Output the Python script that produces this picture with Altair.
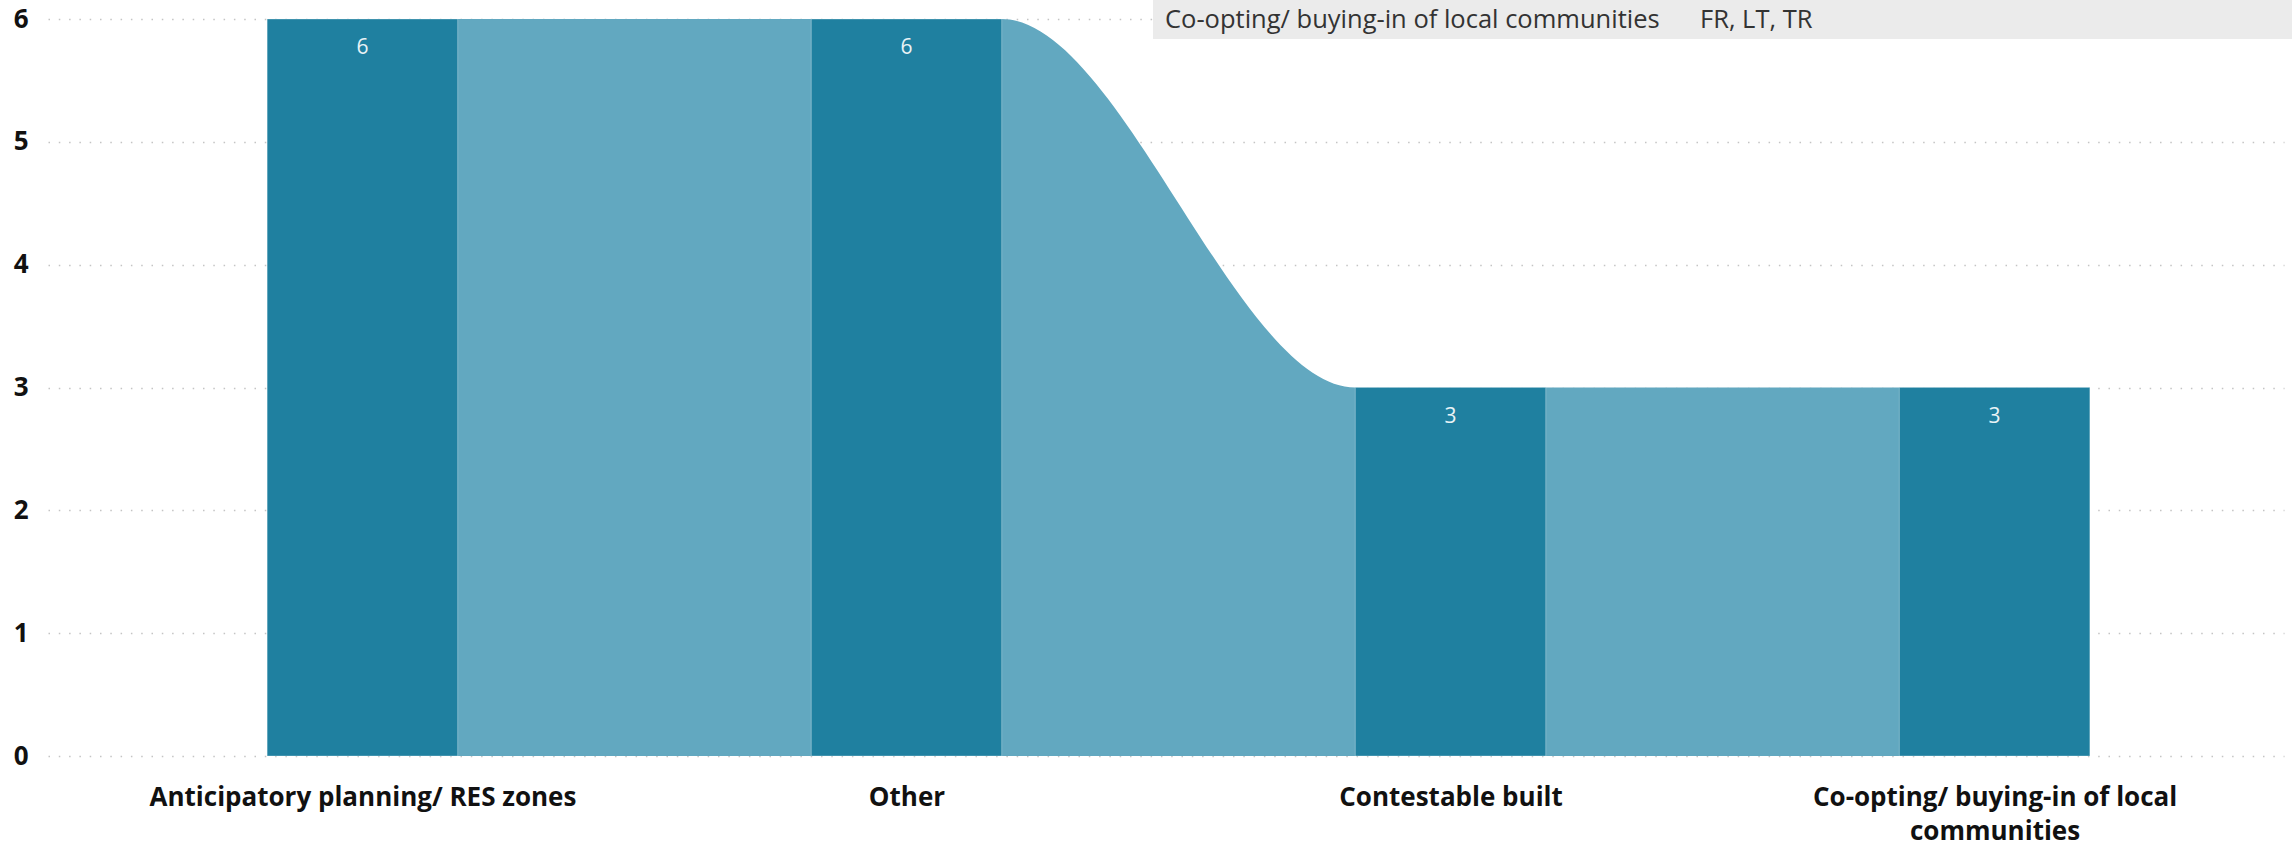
import json
import altair as alt
import pandas as pd

# ---- data ----
categories = [
    "Anticipatory planning/ RES zones",
    "Other",
    "Contestable built",
    "Co-opting/ buying-in of local communities",
]
values = [6, 6, 3, 3]
# axis tick labels (the last one wraps onto two lines)
tick_labels = [
    ["Anticipatory planning/ RES zones"],
    ["Other"],
    ["Contestable built"],
    ["Co-opting/ buying-in of local", "communities"],
]
y_ticks = [0, 1, 2, 3, 4, 5, 6]
tooltip_category = ["Co-opting/ buying-in of local communities"]
tooltip_countries = ["FR, LT, TR"]

# ---- layout / style ----
W, H = 2236, 737
HALF = 0.175  # half bar width in category units
BAR = "#1f80a0"
RIBBON = "#62a8c0"
FONT = "Open Sans"

idx = list(range(len(categories)))
bars = pd.DataFrame({"pos": idx, "value": values, "category": categories})
bars["x0"] = bars["pos"] - HALF
bars["x1"] = bars["pos"] + HALF

# ribbon: each bar's value held across its own left/right edges
rib_rows = []
for i, v in zip(idx, values):
    rib_rows.append({"x": i - HALF, "value": v})
    rib_rows.append({"x": i + HALF, "value": v})
ribbon = pd.DataFrame(rib_rows)

xscale = alt.Scale(domain=[-0.578, 3.532], nice=False, zero=False)
yscale = alt.Scale(domain=[0, 6], nice=False)

x_axis = alt.Axis(
    values=idx,
    labelExpr=f"{json.dumps(tick_labels)}[datum.value]",
    grid=False, domain=False, ticks=False,
    labelFont=FONT, labelFontSize=26, labelFontWeight="bold",
    labelColor="#111111", labelPadding=28, labelLineHeight=34,
    labelLimit=0, labelOverlap=False, labelFlush=False, labelBound=False,
    title=None,
)
y_axis = alt.Axis(
    values=y_ticks, format="d", grid=True, domain=False, ticks=False,
    gridColor="#c4c4c4", gridDash=[1.5, 8.8], gridWidth=1.5,
    labelFont=FONT, labelFontSize=26, labelFontWeight="bold",
    labelColor="#111111", labelPadding=20, title=None,
)

ribbon_layer = alt.Chart(ribbon).mark_area(
    color=RIBBON, interpolate="monotone", opacity=1
).encode(
    x=alt.X("x:Q", scale=xscale, axis=x_axis),
    y=alt.Y("value:Q", scale=yscale, axis=y_axis),
)

bar_layer = alt.Chart(bars).mark_rect(
    color=BAR, stroke="#ffffff", strokeOpacity=0.3, strokeWidth=1
).encode(
    x=alt.X("x0:Q", scale=xscale),
    x2="x1:Q",
    y=alt.Y("value:Q", scale=yscale),
    y2=alt.datum(0),
)

label_layer = alt.Chart(bars).mark_text(
    font=FONT, fontSize=21, color="#e9f3f6", baseline="middle", dy=29
).encode(
    x=alt.X("pos:Q", scale=xscale),
    y=alt.Y("value:Q", scale=yscale),
    text="value:Q",
)

tip_df = pd.DataFrame({"cat": tooltip_category, "ctry": tooltip_countries})
tip_box = alt.Chart(tip_df).mark_rect(color="#ebebeb").encode(
    x=alt.value(1105), x2=alt.value(2244), y=alt.value(-19), y2=alt.value(20)
)
tip_text1 = alt.Chart(tip_df).mark_text(
    font=FONT, fontSize=25.5, color="#333333", align="left", baseline="middle"
).encode(x=alt.value(1117), y=alt.value(1), text="cat:N")
tip_text2 = alt.Chart(tip_df).mark_text(
    font=FONT, fontSize=25.5, color="#333333", align="left", baseline="middle"
).encode(x=alt.value(1652), y=alt.value(1), text="ctry:N")

chart = alt.layer(
    ribbon_layer, bar_layer, label_layer, tip_box, tip_text1, tip_text2
).properties(
    width=W, height=H,
    background="#ffffff",
    autosize=alt.AutoSizeParams(type="none"),
    padding={"left": 48, "top": 19, "right": 8, "bottom": 93},
).configure_view(stroke=None)

chart.save("out.html", embed_options={"renderer": "svg", "actions": False})
